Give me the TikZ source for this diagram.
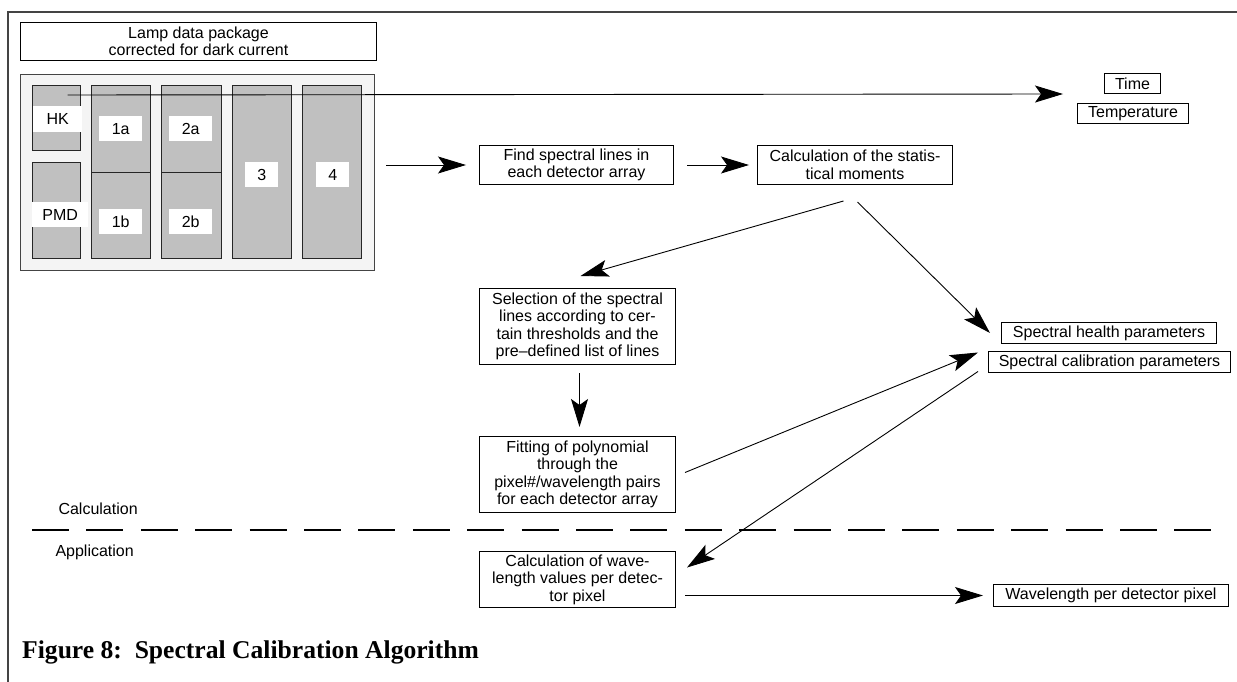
\documentclass[tikz,border=0pt]{standalone}
\usepackage{fontspec}
\setmainfont{Liberation Sans}
\newfontfamily\capfont{Liberation Serif}
\usetikzlibrary{arrows.meta,calc}
\definecolor{colgray}{HTML}{C0C0C0}
\definecolor{panelgray}{HTML}{F4F4F4}
\definecolor{framegray}{HTML}{444444}
\tikzset{
  txt/.style={font=\fontsize{16}{17.5}\selectfont},
  box/.style={txt, draw=black, line width=1pt, fill=white, inner sep=0pt,
    align=center, anchor=north west},
  column/.style={draw=black!85, line width=1pt, fill=colgray, inner sep=0pt,
    anchor=north west},
  tag/.style={txt, fill=white, inner sep=0pt, anchor=north west},
  arr/.style={line width=0.9pt, -{Stealth[length=28pt,width=17pt,inset=6pt]}},
  dashline/.style={line width=1.2pt, dash pattern=on 37pt off 17.4pt},
  frameline/.style={line width=1.4pt, draw=framegray},
}
\begin{document}
\begin{tikzpicture}[x=1pt,y=-1pt]
\useasboundingbox (0,0) rectangle (1237,682);

% page frame
\draw[frameline] (1237,12) -- (8,12) -- (8,682);

% lamp data package
\node[box, minimum width=356, minimum height=38] (lamp) at (20,22)
  {Lamp data package\\corrected for dark current};
\node[draw=framegray, line width=1pt, fill=panelgray, inner sep=0pt,
  anchor=north west, minimum width=354, minimum height=196] (cont) at (20,74) {};

% detector channels
\node[column, minimum width=48, minimum height=65] (hk) at (32,85) {};
\node[column, minimum width=48, minimum height=96] (pmd) at (32,162) {};
\node[column, minimum width=59, minimum height=87] (c1a) at (91,85) {};
\node[column, minimum width=59, minimum height=86] (c1b) at (91,172) {};
\node[column, minimum width=60, minimum height=87] (c2a) at (161,85) {};
\node[column, minimum width=60, minimum height=86] (c2b) at (161,172) {};
\node[column, minimum width=59, minimum height=173] (c3) at (232,85) {};
\node[column, minimum width=59, minimum height=173] (c4) at (302,85) {};

\node[tag, minimum width=49, minimum height=26] (hkl) at (33,106) {HK};
\node[tag, minimum width=56, minimum height=25] (pmdl) at (32,202) {PMD};
\node[tag, minimum width=43, minimum height=25] (l1a) at (99,116) {1a};
\node[tag, minimum width=43, minimum height=25] (l1b) at (99,209) {1b};
\node[tag, minimum width=43, minimum height=25] (l2a) at (169,116) {2a};
\node[tag, minimum width=43, minimum height=25] (l2b) at (169,209) {2b};
\node[tag, minimum width=33, minimum height=25] (l3) at (245,162) {3};
\node[tag, minimum width=33, minimum height=25] (l4) at (316,162) {4};

% housekeeping outputs
\node[box, minimum width=56, minimum height=20] (time) at (1104,73) {Time};
\node[box, minimum width=111, minimum height=20] (temp) at (1077,103) {Temperature};

% processing chain
\node[box, minimum width=194, minimum height=39] (find) at (479,145)
  {Find spectral lines in\\each detector array};
\node[box, minimum width=195, minimum height=39] (calc) at (757,145)
  {Calculation of the statis-\\tical moments};
\node[box, minimum width=196, minimum height=76] (sel) at (479,288)
  {Selection of the spectral\\lines according to cer-\\tain thresholds and the\\pre--defined list of lines};
\node[box, minimum width=196, minimum height=76] (fit) at (479,436)
  {Fitting of polynomial\\through the\\pixel\#/wavelength pairs\\for each detector array};
\node[box, minimum width=196, minimum height=56] (cwl) at (479,551)
  {Calculation of wave-\\length values per detec-\\tor pixel};

% parameter outputs
\node[box, minimum width=215, minimum height=21] (health) at (1001,322)
  {Spectral health parameters};
\node[box, minimum width=242, minimum height=21] (calib) at (988,351)
  {Spectral calibration parameters};
\node[box, minimum width=235, minimum height=22] (wl) at (993,584)
  {Wavelength per detector pixel};

% connectors
\coordinate (hkstart) at ($(hk.north)+(11,10)$);
\coordinate (hkend) at (1063,94);
\draw[arr] (hkstart) -- (hkend);

\draw[arr, shorten <=11pt, shorten >=13pt] (cont.east |- find.west) -- (find.west);
\draw[arr, shorten <=13pt, shorten >=8pt] (find.east) -- (calc.west);

\coordinate (m1) at ($(calc.south)+(-11.5,16)$);
\coordinate (m2) at ($(calc.south)+(2.5,17)$);
\coordinate (selin) at ($(sel.north)+(3,-12)$);
\coordinate (hin) at ($(health.west)+(-11,0)$);
\draw[arr] (m1) -- (selin);
\draw[arr] (m2) -- (hin);

\draw[arr, shorten <=8pt, shorten >=9pt] ($(sel.south)+(2,0)$) -- ($(fit.north)+(2,0)$);

\coordinate (fout) at ($(fit.east)+(9,-2)$);
\coordinate (cin) at ($(calib.west)+(-10,-9.5)$);
\draw[arr] (fout) -- (cin);

\coordinate (cout) at ($(calib.west)+(-10,9.5)$);
\coordinate (win) at ($(cwl.east)+(11,-12)$);
\draw[arr] (cout) -- (win);

\draw[arr, shorten <=9pt, shorten >=10pt] (cwl.east |- wl.west) -- (wl.west);

% calculation / application divide
\coordinate (dl) at (32,530);
\coordinate (dr) at (1222,530);
\draw[dashline] (dl) -- (dr);
\node[txt, anchor=base west] (calclab) at (55,514) {Calculation};
\node[txt, anchor=base west] (applab) at (52,556) {Application};

% caption
\node[anchor=base west, inner sep=0pt, font=\capfont\bfseries\fontsize{25.6}{30}\selectfont]
  (cap) at (22,658) {Figure 8:\ \ Spectral Calibration Algorithm};
\end{tikzpicture}
\end{document}
